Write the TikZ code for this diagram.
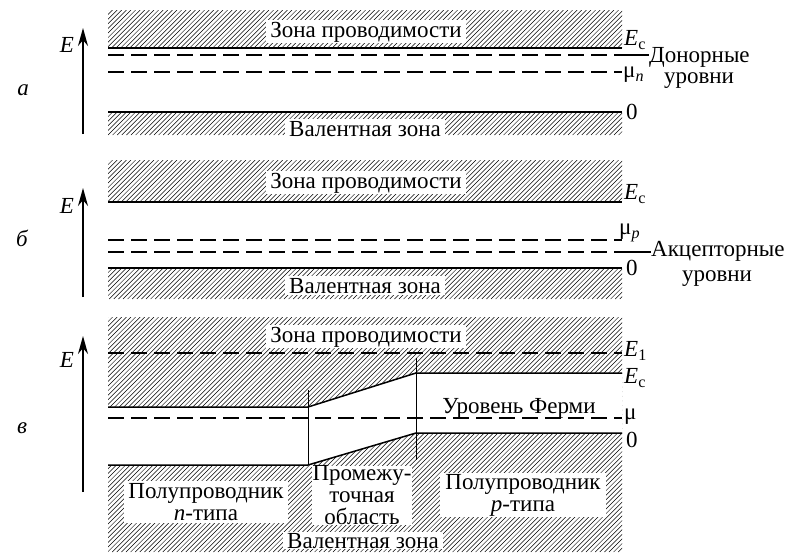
\documentclass[tikz,border=0pt]{standalone}
\usepackage{fontspec}
\setmainfont{Liberation Serif}
\usetikzlibrary{arrows.meta}
\newcommand\hatchbox[4]{%
  \begin{scope}
    \clip (#1,#2) rectangle (#3,#4);
    \pgfmathtruncatemacro\nh{((#3)-(#1)+(#4)-(#2))/4.6+2}
    \foreach \k in {0,...,\nh}
      \draw[hatchln] ({#1-(#4-#2)+4.6*\k},#4) -- ++({#4-#2},{-(#4-#2)});
  \end{scope}}
\begin{document}
\begin{tikzpicture}[x=1pt,y=-1pt,
  band/.style={line width=1.5pt},
  lvl/.style={line width=1.5pt, dash pattern=on 16pt off 7pt},
  hatchln/.style={line width=0.5pt},
  thinln/.style={line width=1pt},
  big/.style={font=\fontsize{23}{22}\selectfont},
  zlabel/.style={big, fill=white, inner xsep=4pt, inner ysep=1.5pt},
  side/.style={big, inner sep=0pt, anchor=west},
  eaxis/.style={line width=1.5pt, -{Stealth[length=18pt,width=10pt]}},
]
\useasboundingbox (0,0) rectangle (787,552);

% ---------------- panel a ----------------
\hatchbox{108}{10}{622}{48}
\hatchbox{108}{112}{622}{135}
\draw[band] (108,48) -- (622,48);
\draw[band] (108,112) -- (622,112);
\draw[lvl] (108,55) -- (622,55);
\draw[lvl] (108,72) -- (622,72);
\node[zlabel, anchor=base] (za) at (366,37) {Зона проводимости};
\node[zlabel, anchor=base] (va) at (365,136) {Валентная зона};
\node[side] (eca) at (624,40) {\itshape E\textsubscript{\upshape c}};
\node[side] (mua) at (623,75) {μ\textsubscript{\itshape n}};
\node[side] (zeroa) at (626,112) {0};
\node[big, inner sep=0pt, anchor=base west] (dn) at (649,62) {Донорные};
\node[big, inner sep=0pt, anchor=base] (dn2) at (699,83) {уровни};
\coordinate (dnend) at (622,55);
\draw[band] (dnend) -- (dnend -| dn.west);
\coordinate (aa0) at (83,134);
\coordinate (aa1) at (83,28);
\draw[eaxis] (aa0) -- (aa1);
\node[big, inner sep=0pt, anchor=east] (Ea) at (74,45) {\itshape E};
\node[big, inner sep=0pt] (la) at (23,90) {\itshape а};

% ---------------- panel b ----------------
\hatchbox{108}{160}{622}{202}
\hatchbox{108}{268}{622}{299}
\draw[band] (108,202) -- (622,202);
\draw[band] (108,268) -- (622,268);
\draw[lvl] (108,240) -- (622,240);
\draw[lvl] (108,252) -- (622,252);
\node[zlabel, anchor=base] (zb) at (366,188) {Зона проводимости};
\node[zlabel, anchor=base] (vb) at (365,293) {Валентная зона};
\node[side] (ecb) at (624,194) {\itshape E\textsubscript{\upshape c}};
\node[side] (mub) at (619,233) {μ\textsubscript{\itshape p}};
\node[side] (zerob) at (626,268) {0};
\node[big, inner sep=0pt, anchor=base west] (ak) at (651,256) {Акцепторные};
\node[big, inner sep=0pt, anchor=base] (ak2) at (717,281) {уровни};
\coordinate (akend) at (622,252);
\draw[band] (akend) -- (akend -| ak.west);
\coordinate (ba0) at (83,297);
\coordinate (ba1) at (83,188);
\draw[eaxis] (ba0) -- (ba1);
\node[big, inner sep=0pt, anchor=east] (Eb) at (74,206) {\itshape E};
\node[big, inner sep=0pt] (lb) at (22,238) {\itshape б};

% ---------------- panel c ----------------
\hatchbox{108}{317}{622}{552}
\fill[white] (108,407) -- (308,407) -- (416,373) -- (622,373) -- (622,433)
   -- (416,433) -- (308,465) -- (108,465) -- cycle;
\draw[lvl] (108,353) -- (622,353);
\draw[band] (108,407) -- (308,407) -- (416,373) -- (622,373);
\draw[band] (108,465) -- (308,465) -- (416,433) -- (622,433);
\draw[lvl] (108,418) -- (622,418);
\draw[thinln] (308,390) -- (308,465);
\draw[thinln] (416,358) -- (416,460);
\node[zlabel, anchor=base] (zc) at (366,342) {Зона проводимости};
\node[big, inner sep=0pt, anchor=base] (fermi) at (519,413) {Уровень Ферми};
\node[zlabel, align=center, inner xsep=4pt, inner ysep=2pt] (nleft) at (206,502) {Полупроводник\\{\itshape n}-типа};
\node[zlabel, align=center, inner xsep=1pt, inner ysep=0pt] (mid) at (362,495.5) {Промежу-\\точная\\область};
\node[zlabel, align=center, inner xsep=5pt, inner ysep=1pt] (pright) at (523,495) {Полупроводник\\{\itshape p}-типа};
\node[zlabel, anchor=base, inner ysep=1pt] (vc) at (363,548) {Валентная зона};
\node[side] (e1c) at (624,351) {\itshape E\textsubscript{\upshape 1}};
\node[side] (ecc) at (624,378) {\itshape E\textsubscript{\upshape c}};
\node[side] (muc) at (624,417) {μ};
\node[side] (zeroc) at (626,440) {0};
\coordinate (ca0) at (83,492);
\coordinate (ca1) at (83,336);
\draw[eaxis] (ca0) -- (ca1);
\node[big, inner sep=0pt, anchor=east] (Ec) at (74,360) {\itshape E};
\node[big, inner sep=0pt] (lc) at (22,428) {\itshape в};
\end{tikzpicture}
\end{document}
